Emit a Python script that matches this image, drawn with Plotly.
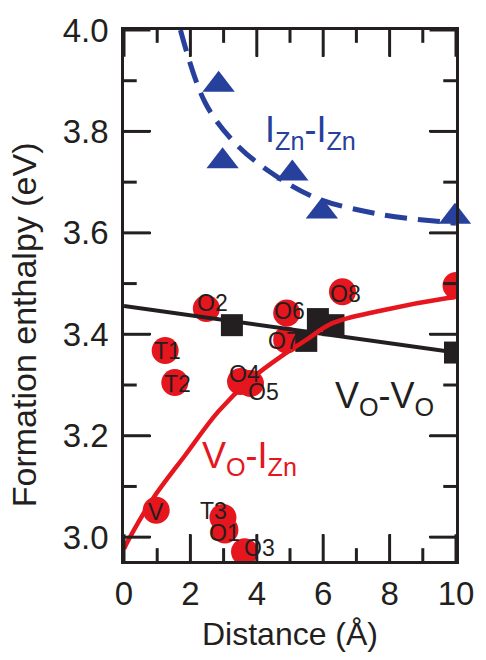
import plotly.graph_objects as go

# ---------------- data ----------------
# I_Zn - I_Zn (blue triangles + dashed guide curve)
izn_x = [2.85, 2.97, 5.07, 5.96, 9.97]
izn_y = [3.892, 3.741, 3.717, 3.642, 3.632]
izn_curve_x = [1.70, 2.45, 3.33, 4.40, 5.78, 7.76, 9.71, 10.0]
izn_curve_y = [4.000, 3.856, 3.778, 3.720, 3.669, 3.636, 3.621, 3.619]

# V_O - V_O (black squares + straight line)
vo_x = [3.25, 5.84, 6.31, 5.49, 9.97]
vo_y = [3.418, 3.430, 3.418, 3.387, 3.364]
vo_line_x = [0.0, 10.0]
vo_line_y = [3.456, 3.364]

# V_O - I_Zn (red circles + guide curve)
vi_labels = ["V", "T1", "T2", "O2", "O4", "O5", "O6", "O7", "O8", "", "T3", "O1", "O3"]
vi_x = [0.97, 1.24, 1.53, 2.48, 3.51, 3.81, 4.90, 4.90, 6.58, 10.0, 2.98, 3.04, 3.63]
vi_y = [3.053, 3.368, 3.305, 3.451, 3.307, 3.303, 3.442, 3.389, 3.484, 3.496, 3.039, 3.014, 2.971]
vi_curve_x = [0.0, 0.18, 0.86, 1.86, 2.83, 3.81, 4.81, 5.49, 6.28, 7.76, 9.71, 9.97]
vi_curve_y = [2.977, 3.000, 3.075, 3.163, 3.247, 3.311, 3.360, 3.389, 3.422, 3.447, 3.471, 3.473]

# axis ticks
x_major = [0, 2, 4, 6, 8, 10]
x_minor = [1, 3, 5, 7, 9]
y_major = [3.0, 3.2, 3.4, 3.6, 3.8, 4.0]
y_minor = [3.1, 3.3, 3.5, 3.7, 3.9]

# ---------------- styles ----------------
RED = "#e5161e"
BLUE = "#27409b"
BLACK = "#231f20"
FONT = "Liberation Sans, Arial, Helvetica, sans-serif"
# label offsets (px) relative to each red circle
lab_dx = [0, 2, 3, 6, 4, 13, 3, -3, 3, 0, -9, 0, 15]
lab_dy = [-2, 0, -2, 5, 7, -9, 2, -1, -2, 0, 6, -3, 4]

W, H = 486, 660
ML, MR, MT, MB = 124, 23, 23, 99
PW, PH = W - ML - MR, H - MT - MB
MAJ, MIN = 27, 13  # tick lengths in px

XR = [0, 10]
YR = [2.953, 4.0]
XPX = (XR[1] - XR[0]) / PW
YPX = (YR[1] - YR[0]) / PH

fig = go.Figure()

fig.add_trace(go.Scatter(x=izn_curve_x, y=izn_curve_y, mode="lines",
                         line=dict(color=BLUE, width=5, dash="22px,11px", shape="spline"),
                         hoverinfo="skip", showlegend=False))
fig.add_trace(go.Scatter(x=vi_x, y=vi_y, mode="markers",
                         marker=dict(symbol="circle", size=27, color=RED, line=dict(width=0)),
                         showlegend=False))
fig.add_trace(go.Scatter(x=vo_line_x, y=vo_line_y, mode="lines",
                         line=dict(color=BLACK, width=4), showlegend=False))
fig.add_trace(go.Scatter(x=vo_x, y=vo_y, mode="markers",
                         marker=dict(symbol="square", size=22, color=BLACK, line=dict(width=0)),
                         showlegend=False))
fig.add_trace(go.Scatter(x=vi_curve_x, y=vi_curve_y, mode="lines",
                         line=dict(color=RED, width=4.5, shape="spline"), showlegend=False))
fig.add_trace(go.Scatter(x=izn_x, y=izn_y, mode="markers",
                         marker=dict(symbol="triangle-up", size=28, color=BLUE, line=dict(width=0)),
                         showlegend=False, cliponaxis=False))

# tick marks (inside, on all four sides)
def add_ticks(xs, ys):
    fig.add_trace(go.Scatter(x=xs, y=ys, mode="lines", line=dict(color=BLACK, width=3),
                             hoverinfo="skip", showlegend=False))

for vals, ln in ((x_major, MAJ), (x_minor, MIN)):
    d = ln * YPX
    for v in vals:
        add_ticks([v, v], [YR[0], YR[0] + d])
        add_ticks([v, v], [YR[1] - d, YR[1]])
for vals, ln in ((y_major, MAJ), (y_minor, MIN)):
    d = ln * XPX
    for v in vals:
        add_ticks([XR[0], XR[0] + d], [v, v])
        add_ticks([XR[1] - d, XR[1]], [v, v])

annotations = []
for lab, x, y, dx, dy in zip(vi_labels, vi_x, vi_y, lab_dx, lab_dy):
    if not lab:
        continue
    annotations.append(dict(x=x, y=y, xref="x", yref="y", text=lab, showarrow=False,
                            xshift=dx, yshift=dy,
                            font=dict(family=FONT, size=23, color=BLACK)))

annotations += [
    dict(x=5.62, y=3.798, xref="x", yref="y", text="I<sub>Zn</sub>-I<sub>Zn</sub>", showarrow=False,
         font=dict(family=FONT, size=36, color=BLUE)),
    dict(x=7.84, y=3.274, xref="x", yref="y", text="V<sub>O</sub>-V<sub>O</sub>", showarrow=False,
         font=dict(family=FONT, size=36, color=BLACK)),
    dict(x=3.78, y=3.157, xref="x", yref="y", text="V<sub>O</sub>-I<sub>Zn</sub>", showarrow=False,
         font=dict(family=FONT, size=36, color=RED)),
    dict(x=(22 - ML) / PW, y=(H - MB - 322) / PH, xref="paper", yref="paper",
         text="Formation enthalpy (eV)", textangle=-90, showarrow=False,
         xanchor="center", yanchor="middle",
         font=dict(family=FONT, size=34, color=BLACK)),
]

fig.update_layout(
    width=W, height=H,
    margin=dict(l=ML, r=MR, t=MT, b=MB),
    paper_bgcolor="white", plot_bgcolor="white",
    annotations=annotations,
    xaxis=dict(range=XR, tickmode="array", tickvals=x_major,
               ticks="inside", ticklen=MAJ, tickwidth=2, tickcolor=BLACK,
               showline=True, linewidth=2.5, linecolor=BLACK, mirror="ticks",
               showgrid=False, zeroline=False,
               tickfont=dict(family=FONT, size=33, color=BLACK),
               ticklabelstandoff=2,
               title=dict(text="Distance (Å)", font=dict(family=FONT, size=32, color=BLACK), standoff=12)),
    yaxis=dict(range=YR, tickmode="array", tickvals=y_major, tickformat=".1f",
               ticks="inside", ticklen=MAJ, tickwidth=2, tickcolor=BLACK,
               showline=True, linewidth=2.5, linecolor=BLACK, mirror="ticks",
               showgrid=False, zeroline=False,
               tickfont=dict(family=FONT, size=33, color=BLACK),
               ticklabelstandoff=6),
)

fig.write_html("out.html")
